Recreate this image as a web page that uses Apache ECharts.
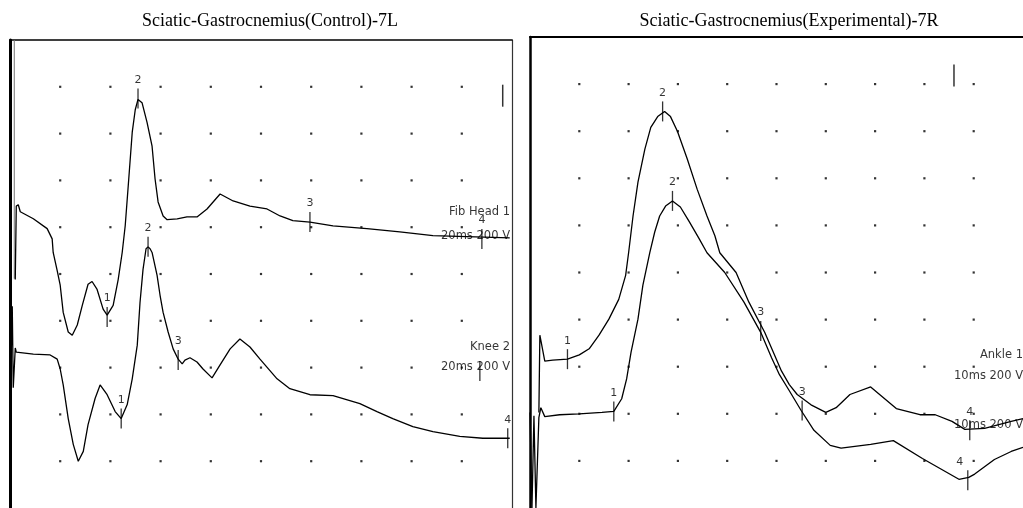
<!DOCTYPE html>
<html><head><meta charset="utf-8">
<script src="https://cdn.jsdelivr.net/npm/echarts/dist/echarts.min.js"></script>
<style>html,body{margin:0;padding:0;background:#fff}#c{width:1023px;height:508px}</style>
</head><body><div id="c"></div>
<script>
// Panel titles
const titles = ['Sciatic-Gastrocnemius(Control)-7L', 'Sciatic-Gastrocnemius(Experimental)-7R'];
// Grid dot positions (left: 2 ms/div, right: 1 ms/div; y in divisions)
const leftDotX = [2, 4, 6, 8, 10, 12, 14, 16, 18];
const rightDotX = [1, 2, 3, 4, 5, 6, 7, 8, 9];
const dotY = [1, 2, 3, 4, 5, 6, 7, 8, 9];

// Control: Fib Head 1 (ms, div)
const traceFibHead = [[0.21,4.88],[0.25,6.45],[0.33,6.48],[0.41,6.33],[0.93,6.18],[1.48,5.97],[1.68,5.75],[1.72,5.46],[1.88,5.07],[2.00,4.76],[2.12,4.18],[2.32,3.76],[2.48,3.69],[2.68,3.91],[2.88,4.33],[3.11,4.78],[3.27,4.84],[3.47,4.67],[3.71,4.25],[3.87,4.12],[4.11,4.33],[4.31,4.88],[4.47,5.46],[4.59,6.03],[4.71,6.88],[4.87,8.03],[4.99,8.51],[5.10,8.73],[5.26,8.66],[5.46,8.24],[5.66,7.73],[5.78,7.03],[5.90,6.54],[6.10,6.24],[6.26,6.16],[6.66,6.18],[7.05,6.22],[7.45,6.22],[7.85,6.39],[8.37,6.71],[8.89,6.56],[9.56,6.45],[10.24,6.39],[10.76,6.24],[11.27,6.14],[11.95,6.11],[12.87,6.03],[14.22,5.97],[15.53,5.90],[16.85,5.82],[18.20,5.80],[19.91,5.77]];
// Control: Knee 2
const traceKnee = [[0.05,3.33],[0.09,4.31],[0.13,2.57],[0.21,3.42],[0.25,3.33],[0.93,3.29],[1.60,3.27],[1.88,3.18],[2.00,2.97],[2.12,2.63],[2.32,1.91],[2.52,1.36],[2.72,1.00],[2.92,1.21],[3.11,1.78],[3.39,2.34],[3.59,2.63],[3.87,2.42],[4.19,2.06],[4.43,1.91],[4.67,2.21],[4.87,2.76],[5.07,3.48],[5.18,4.39],[5.30,5.10],[5.42,5.54],[5.50,5.58],[5.58,5.54],[5.66,5.46],[5.86,4.97],[5.98,4.54],[6.10,4.18],[6.30,3.76],[6.50,3.40],[6.70,3.18],[6.86,3.08],[6.97,3.16],[7.17,3.21],[7.45,3.12],[7.69,2.97],[8.05,2.78],[8.37,3.06],[8.77,3.40],[9.16,3.61],[9.56,3.44],[9.96,3.18],[10.64,2.76],[11.15,2.55],[11.95,2.42],[12.87,2.40],[13.94,2.23],[14.62,2.06],[15.25,1.91],[16.05,1.74],[16.85,1.63],[17.92,1.53],[18.84,1.49],[19.91,1.49]];
// Experimental: Ankle (upper baseline)
const traceAnkle = [[0.18,2.03],[0.20,3.67],[0.30,3.12],[0.46,3.14],[0.76,3.16],[1.00,3.25],[1.20,3.38],[1.40,3.67],[1.60,4.01],[1.80,4.43],[1.94,4.94],[2.00,5.42],[2.09,6.20],[2.19,6.92],[2.33,7.62],[2.45,8.08],[2.59,8.31],[2.73,8.42],[2.85,8.31],[2.99,8.00],[3.19,7.41],[3.39,6.77],[3.59,6.20],[3.75,5.78],[3.85,5.42],[4.18,5.00],[4.44,4.37],[4.76,3.73],[4.96,3.25],[5.10,2.91],[5.26,2.62],[5.42,2.41],[5.70,2.19],[6.00,2.03],[6.21,2.13],[6.49,2.41],[6.91,2.57],[7.43,2.11],[7.91,1.98],[8.22,1.98],[8.56,1.84],[8.82,1.67],[9.22,1.69],[9.76,1.84],[10.00,1.90]];
// Experimental: second site (lower baseline)
const traceSecond = [[0.00,2.03],[0.04,0.00],[0.08,1.96],[0.12,0.00],[0.18,1.92],[0.22,2.13],[0.30,1.94],[0.60,1.98],[1.00,2.00],[1.46,2.03],[1.70,2.05],[1.86,2.32],[1.96,2.74],[2.05,3.31],[2.19,4.01],[2.29,4.73],[2.43,5.42],[2.53,5.86],[2.63,6.20],[2.75,6.41],[2.89,6.52],[3.05,6.39],[3.23,6.08],[3.43,5.72],[3.59,5.42],[3.95,5.00],[4.34,4.37],[4.68,3.73],[4.90,3.19],[5.06,2.83],[5.26,2.49],[5.50,2.07],[5.76,1.65],[6.09,1.33],[6.31,1.27],[6.91,1.35],[7.37,1.43],[7.96,1.05],[8.70,0.61],[8.90,0.65],[9.02,0.72],[9.42,1.03],[9.76,1.20],[10.00,1.29]];

// Latency markers [x, y, label]
const markersFibHead = [[3.87,4.08,'1'],[5.10,8.75,'2'],[11.95,6.11,'3'],[18.80,5.75,'4']];
const markersKnee = [[4.43,1.91,'1'],[5.50,5.58,'2'],[6.70,3.16,'3'],[19.83,1.49,'4'],[18.72,2.93,'']];
const markersAnkle = [[0.76,3.16,'1'],[2.69,8.42,'2'],[4.68,3.76,'3'],[8.92,1.65,'4']];
const markersSecond = [[1.70,2.05,'1'],[2.89,6.52,'2'],[5.52,2.07,'3'],[8.88,0.59,'4']];
// Calibration ticks
const calLeft = [[19.63, 8.81]];
const calRight = [[8.60, 9.18]];
// Site / setting labels [x, y, text]
const labelsLeft = [[19.92,6.33,'Fib Head 1'],[19.92,5.82,'20ms 200 V'],[19.92,3.44,'Knee 2'],[19.92,3.01,'20ms 200 V']];
const labelsRight = [[10.0,3.25,'Ankle 1'],[10.0,2.81,'10ms 200 V'],[10.0,1.77,'10ms 200 V']];

const SANS = 'DejaVu Sans';
const dots = (xs) => xs.flatMap(x => dotY.map(y => [x, y]));
const lineSeries = (data, gi) => ({
  type: 'line', xAxisIndex: gi, yAxisIndex: gi, data, showSymbol: false, symbol: 'none',
  lineStyle: { color: '#000', width: 1.3 }, silent: true, z: 3
});
const markerSeries = (arr, gi, nudge) => ({
  type: 'scatter', xAxisIndex: gi, yAxisIndex: gi, symbol: 'rect', symbolSize: [1.3, 20],
  itemStyle: { color: '#000' }, silent: true, z: 4,
  data: arr.map((m, i) => ({ value: [m[0], m[1]], name: m[2],
    label: { show: m[2] !== '', offset: (nudge && nudge[i]) || [0, 0] } })),
  label: { position: 'top', distance: 3, formatter: p => p.name, color: '#000', fontFamily: SANS, fontSize: 11 }
});
const textSeries = (arr, gi) => ({
  type: 'scatter', xAxisIndex: gi, yAxisIndex: gi, symbolSize: 0, silent: true, z: 5,
  data: arr.map(t => ({ value: [t[0], t[1]], name: t[2] })),
  label: { show: true, position: 'left', distance: 0, formatter: p => p.name, color: '#000',
    fontFamily: SANS, fontSize: 11.5 }
});
const dotSeries = (data, gi) => ({
  type: 'scatter', xAxisIndex: gi, yAxisIndex: gi, data, symbol: 'rect', symbolSize: 2.2,
  itemStyle: { color: '#000' }, silent: true, z: 2
});
const calSeries = (data, gi) => ({
  type: 'scatter', xAxisIndex: gi, yAxisIndex: gi, data, symbol: 'rect', symbolSize: [1.5, 22],
  itemStyle: { color: '#000' }, silent: true, z: 4
});
const hidden = { axisTick: { show: false }, axisLabel: { show: false }, splitLine: { show: false } };
const titleStyle = { fontFamily: 'Liberation Serif', fontSize: 18, fontWeight: 'normal', color: '#000' };

const chart = echarts.init(document.getElementById('c'), null, { renderer: 'canvas' });
chart.setOption({
  animation: false,
  backgroundColor: '#fff',
  title: [
    { text: titles[0], left: 265, top: 7, textAlign: 'center', textStyle: titleStyle },
    { text: titles[1], left: 784, top: 7, textAlign: 'center', textStyle: titleStyle }
  ],
  grid: [
    { left: 10, top: 40, width: 502, height: 471 },
    { left: 530, top: 37, width: 503, height: 474 }
  ],
  xAxis: [
    Object.assign({ type: 'value', gridIndex: 0, min: 0, max: 20, position: 'top',
      axisLine: { show: true, onZero: false, lineStyle: { color: '#000', width: 1.5 } } }, hidden),
    Object.assign({ type: 'value', gridIndex: 1, min: 0, max: 10, position: 'top',
      axisLine: { show: true, onZero: false, lineStyle: { color: '#000', width: 2 } } }, hidden)
  ],
  yAxis: [
    Object.assign({ type: 'value', gridIndex: 0, min: 0, max: 10, position: 'left',
      axisLine: { show: true, onZero: false, lineStyle: { color: '#000', width: 3 } } }, hidden),
    Object.assign({ type: 'value', gridIndex: 1, min: 0, max: 10, position: 'left',
      axisLine: { show: true, onZero: false, lineStyle: { color: '#000', width: 2.5 } } }, hidden),
    Object.assign({ type: 'value', gridIndex: 0, min: 0, max: 10, position: 'right',
      axisLine: { show: true, onZero: false, lineStyle: { color: '#333', width: 1.2 } } }, hidden)
  ],
  series: [
    dotSeries(dots(leftDotX), 0),
    dotSeries(dots(rightDotX), 1),
    { type: 'line', xAxisIndex: 0, yAxisIndex: 0, data: [[0.17, 10], [0.17, 4.9]], symbol: 'none',
      lineStyle: { color: '#777', width: 1 }, silent: true, z: 2 },
    lineSeries(traceFibHead, 0),
    lineSeries(traceKnee, 0),
    lineSeries(traceAnkle, 1),
    lineSeries(traceSecond, 1),
    markerSeries(markersFibHead, 0),
    markerSeries(markersKnee, 0),
    markerSeries(markersAnkle, 1),
    markerSeries(markersSecond, 1, [null, null, null, [-8, 0]]),
    calSeries(calLeft, 0),
    calSeries(calRight, 1),
    textSeries(labelsLeft, 0),
    textSeries(labelsRight, 1)
  ]
});
</script></body></html>
